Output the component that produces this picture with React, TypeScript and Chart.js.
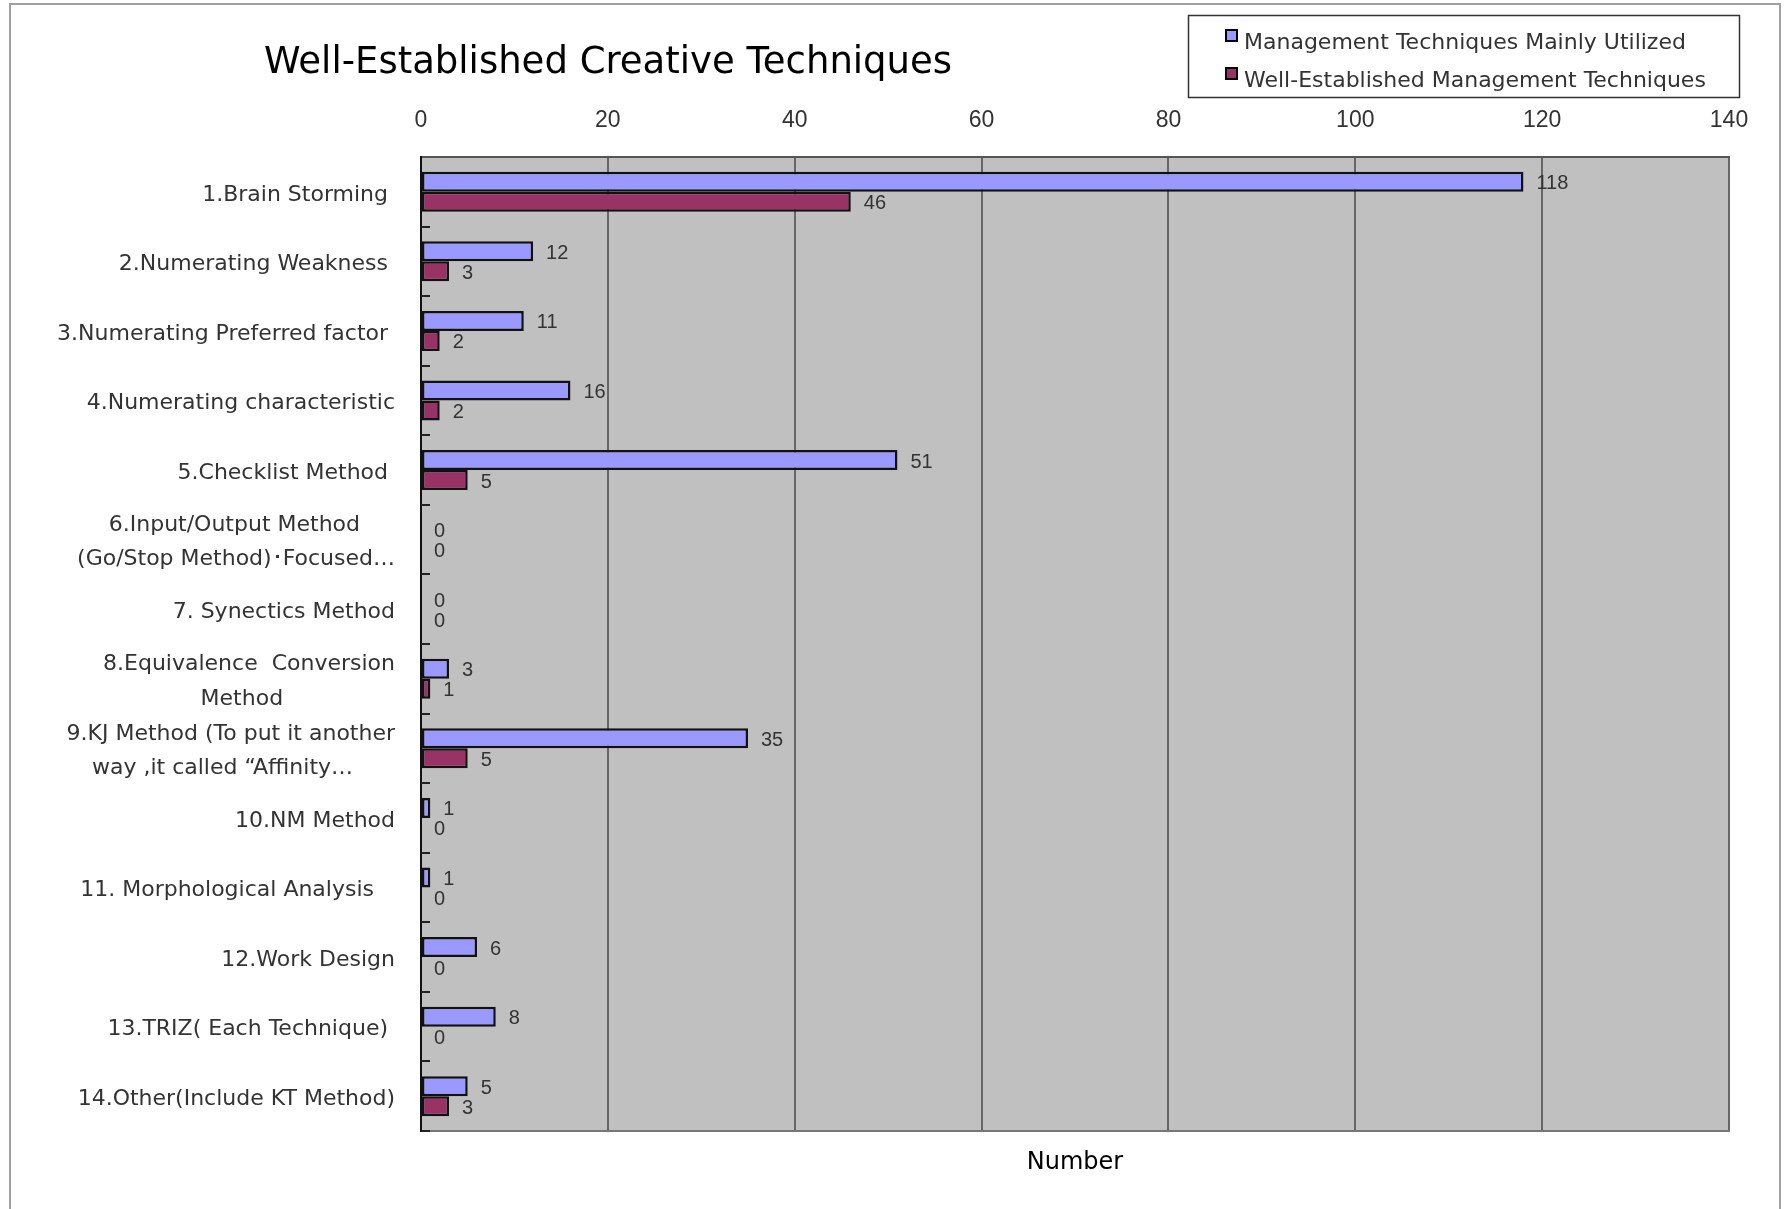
import React, { useEffect, useRef } from "react";
import { Chart, registerables } from "chart.js";

Chart.register(...registerables);

// ---------- data ----------
const chartTitle = "Well-Established Creative Techniques";
const axisTitle = "Number";

const categories: (string | string[])[] = [
  "1.Brain Storming ",
  "2.Numerating Weakness ",
  "3.Numerating Preferred factor ",
  "4.Numerating characteristic",
  "5.Checklist Method ",
  ["6.Input/Output Method     ", "(Go/Stop Method)･Focused…"],
  "7. Synectics Method",
  ["8.Equivalence  Conversion", "Method                "],
  ["9.KJ Method (To put it another", "way ,it called “Affinity…      "],
  "10.NM Method",
  "11. Morphological Analysis   ",
  "12.Work Design",
  "13.TRIZ( Each Technique) ",
  "14.Other(Include KT Method)",
];

const seriesNames = [
  "Management Techniques Mainly Utilized",
  "Well-Established Management Techniques",
];

const mainlyUtilized = [118, 12, 11, 16, 51, 0, 0, 3, 35, 1, 1, 6, 8, 5];
const wellEstablished = [46, 3, 2, 2, 5, 0, 0, 1, 5, 0, 0, 0, 0, 3];

const xMin = 0;
const xMax = 140;
const xStep = 20;

const seriesColors = ["#9999FF", "#993366"];

// ---------- styling ----------
const W = 1785;
const H = 1209;
const LABEL_FONT = "'DejaVu Sans', 'Liberation Sans', sans-serif";
const NUM_FONT = "'Liberation Sans', 'DejaVu Sans', sans-serif";

const decorPlugin = {
  id: "decor",
  beforeDraw(chart: any) {
    const { ctx, chartArea: a } = chart;
    ctx.save();
    ctx.fillStyle = "#C0C0C0";
    ctx.fillRect(a.left, a.top, a.right - a.left, a.bottom - a.top);
    ctx.restore();
  },
  afterDatasetsDraw(chart: any) {
    const { ctx } = chart;
    ctx.save();
    ctx.font = `20px ${NUM_FONT}`;
    ctx.fillStyle = "#333";
    ctx.textAlign = "left";
    ctx.textBaseline = "middle";
    chart.data.datasets.forEach((ds: any, di: number) => {
      const meta = chart.getDatasetMeta(di);
      meta.data.forEach((el: any, i: number) => {
        ctx.fillText(String(ds.data[i]), el.x + 13, el.y + 2);
      });
    });
    ctx.restore();
  },
  afterDraw(chart: any) {
    const { ctx, chartArea: a } = chart;
    const yScale = chart.scales.y;
    const n = chart.data.labels.length;
    const band = (yScale.bottom - yScale.top) / n;
    ctx.save();
    // inside tick marks on the category axis
    ctx.strokeStyle = "#222";
    ctx.lineWidth = 2;
    for (let i = 0; i < n; i++) {
      const y = Math.round(yScale.getPixelForValue(i) + band / 2);
      ctx.beginPath();
      ctx.moveTo(a.left, y);
      ctx.lineTo(a.left + 9, y);
      ctx.stroke();
    }
    // title
    ctx.fillStyle = "#000";
    ctx.font = `37px ${LABEL_FONT}`;
    ctx.textAlign = "center";
    ctx.textBaseline = "alphabetic";
    ctx.fillText(chartTitle, 608, 73);
    // legend box
    ctx.strokeStyle = "#333";
    ctx.lineWidth = 1.5;
    ctx.strokeRect(1188.5, 15.5, 551, 82);
    ctx.font = `22px ${LABEL_FONT}`;
    ctx.textAlign = "left";
    chart.data.datasets.forEach((ds: any, i: number) => {
      const base = 49 + i * 38;
      ctx.fillStyle = ds.backgroundColor;
      ctx.fillRect(1226, base - 19, 11, 11);
      ctx.strokeStyle = "#000";
      ctx.lineWidth = 2;
      ctx.strokeRect(1226, base - 19, 11, 11);
      ctx.fillStyle = "#333";
      ctx.fillText(ds.label, 1244, base);
    });
    ctx.restore();
  },
};

export default function App() {
  const canvasRef = useRef<HTMLCanvasElement | null>(null);

  useEffect(() => {
    if (!canvasRef.current) return;
    const chart = new Chart(canvasRef.current, {
      type: "bar",
      data: {
        labels: categories,
        datasets: [
          {
            label: seriesNames[0],
            data: mainlyUtilized,
            backgroundColor: seriesColors[0],
            borderColor: "#111",
            borderWidth: 2.5,
            borderSkipped: false,
            categoryPercentage: 0.575,
            barPercentage: 1,
          },
          {
            label: seriesNames[1],
            data: wellEstablished,
            backgroundColor: seriesColors[1],
            borderColor: "#111",
            borderWidth: 2.5,
            borderSkipped: false,
            categoryPercentage: 0.575,
            barPercentage: 1,
          },
        ],
      },
      options: {
        indexAxis: "y",
        responsive: false,
        animation: false,
        layout: { padding: { left: 0, right: 56, top: 100, bottom: 0 } },
        plugins: {
          legend: { display: false },
          title: { display: false },
          tooltip: { enabled: false },
        },
        scales: {
          x: {
            type: "linear",
            position: "top",
            min: xMin,
            max: xMax,
            ticks: {
              stepSize: xStep,
              color: "#333",
              padding: 23,
              font: { family: NUM_FONT, size: 23 },
            },
            grid: {
              color: (c: any) =>
                c.tick && c.tick.value === xMin ? "rgba(0,0,0,0)" : "#666",
              lineWidth: 2,
              drawTicks: false,
            },
            border: { display: true, color: "#555", width: 2 },
            afterFit: (s: any) => {
              s.height = 157 - 100;
            },
          },
          x2: {
            type: "linear",
            position: "bottom",
            min: xMin,
            max: xMax,
            ticks: { display: false },
            grid: { display: false, drawTicks: false },
            border: { display: true, color: "#777", width: 2 },
            title: {
              display: true,
              text: axisTitle,
              color: "#000",
              font: { family: LABEL_FONT, size: 24 },
              padding: { top: 0, bottom: 32 },
            },
            afterFit: (s: any) => {
              s.height = H - 1131;
            },
          },
          y: {
            type: "category",
            grid: { display: false, drawTicks: false },
            border: { display: true, color: "#111", width: 2 },
            ticks: {
              autoSkip: false,
              color: "#333",
              padding: 26,
              labelOffset: 3,
              font: { family: LABEL_FONT, size: 22, lineHeight: 1.55 },
            },
            afterFit: (s: any) => {
              s.width = 421;
            },
          },
        },
      },
      plugins: [decorPlugin],
    } as any);
    return () => chart.destroy();
  }, []);

  return (
    <div style={{ position: "absolute", left: 0, top: 0, width: W, height: H, overflow: "hidden", background: "#fff" }}>
      <div
        style={{
          position: "absolute",
          left: 9,
          top: 3,
          width: 1772,
          height: H - 3,
          boxSizing: "border-box",
          borderTop: "2px solid #A0A0A0",
          borderLeft: "2px solid #A0A0A0",
          borderRight: "2px solid #A0A0A0",
        }}
      />
      <canvas
        ref={canvasRef}
        width={W}
        height={H}
        style={{ position: "absolute", left: 0, top: 0, width: W, height: H }}
      />
    </div>
  );
}
